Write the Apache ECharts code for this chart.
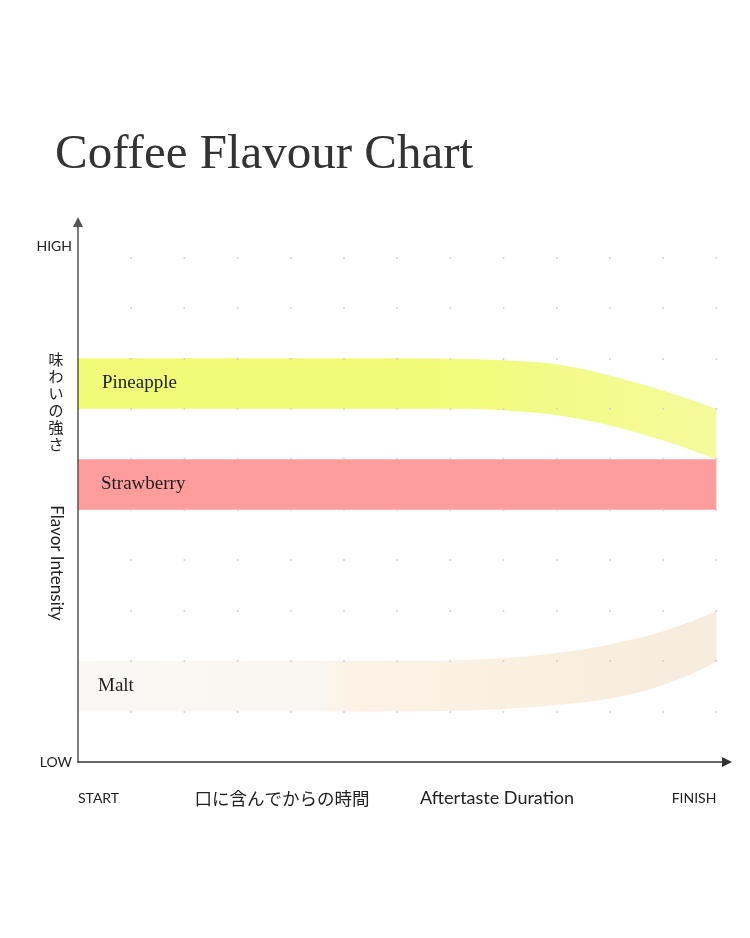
<!DOCTYPE html>
<html><head><meta charset="utf-8">
<script src="https://cdn.jsdelivr.net/npm/echarts@6/dist/echarts.min.js"></script>
<style>html,body{margin:0;padding:0;background:#fff}#c{width:750px;height:938px}</style>
</head><body><div id="c"></div>
<script>
// time positions (START = 0 ... FINISH = 12)
const xPoints        = [0, 1, 2, 3, 4, 5, 6, 7, 8, 9, 10, 11, 12];
// band boundaries (flavour intensity, LOW = 0)
const pineappleLow   = [7, 7, 7, 7, 7, 7, 7, 7.0, 6.97, 6.87, 6.67, 6.37, 6.0];
const pineappleHigh  = [8, 8, 8, 8, 8, 8, 8, 7.99, 7.96, 7.88, 7.66, 7.36, 7.0];
const strawberryLow  = [5, 5, 5, 5, 5, 5, 5, 5, 5, 5, 5, 5, 5];
const strawberryHigh = [6, 6, 6, 6, 6, 6, 6, 6, 6, 6, 6, 6, 6];
const maltLow        = [1, 1, 1, 1, 1, 1, 1, 1.01, 1.05, 1.13, 1.26, 1.52, 1.99];
const maltHigh       = [2, 2, 2, 2, 2, 2, 2, 2.01, 2.06, 2.16, 2.33, 2.59, 2.99];
// axis tick labels
const xTickValues = [0, 12];
const xTickLabels = ['START', 'FINISH'];
const yTickValues = [0, 10.22];
const yTickLabels = ['LOW', 'HIGH'];
const bandNames = ['Pineapple', 'Strawberry', 'Malt'];

const chart = echarts.init(document.getElementById('c'), null, {renderer: 'canvas'});

// monotone cubic (Fritsch-Carlson) bezier segments through pixel points
function monotoneSegments(pts) {
  const n = pts.length, s = [], m = [];
  for (let k = 0; k < n - 1; k++) s.push((pts[k + 1][1] - pts[k][1]) / (pts[k + 1][0] - pts[k][0]));
  // one-sided end tangents, kept monotone
  const endT = (a, b) => { let t = a + (a - b) / 2; if (t * a <= 0) t = 0; if (Math.abs(t) > 3 * Math.abs(a)) t = 3 * a; return t; };
  m[0] = n > 2 ? endT(s[0], s[1]) : s[0];
  m[n - 1] = n > 2 ? endT(s[n - 2], s[n - 3]) : s[n - 2];
  for (let k = 1; k < n - 1; k++) m[k] = (s[k - 1] * s[k] <= 0) ? 0 : (s[k - 1] + s[k]) / 2;
  for (let k = 0; k < n - 1; k++) {
    if (s[k] === 0) { m[k] = 0; m[k + 1] = 0; continue; }
    const a = m[k] / s[k], b = m[k + 1] / s[k], h = a * a + b * b;
    if (h > 9) { const t = 3 / Math.sqrt(h); m[k] = t * a * s[k]; m[k + 1] = t * b * s[k]; }
  }
  const segs = [];
  for (let k = 0; k < n - 1; k++) {
    const p0 = pts[k], p1 = pts[k + 1], d = (p1[0] - p0[0]) / 3;
    segs.push([p0, [p0[0] + d, p0[1] + m[k] * d], [p1[0] - d, p1[1] - m[k + 1] * d], p1]);
  }
  return segs;
}

function band(name, low, high, fill, labelDist) {
  return {
    type: 'custom', name: name, silent: true, z: 2,
    data: xPoints.map((x, i) => [x, low[i], high[i]]),
    encode: {x: 0, y: [1, 2]},
    renderItem: function (params, api) {
      if (params.dataIndex !== 0) return null;
      const up = xPoints.map((x, i) => api.coord([x, high[i]]));
      const lo = xPoints.map((x, i) => api.coord([x, low[i]]));
      const su = monotoneSegments(up), sl = monotoneSegments(lo);
      let d = 'M' + up[0][0] + ' ' + up[0][1];
      su.forEach(g => { d += ' C' + g[1].join(' ') + ' ' + g[2].join(' ') + ' ' + g[3].join(' '); });
      d += ' L' + lo[lo.length - 1][0] + ' ' + lo[lo.length - 1][1];
      for (let k = sl.length - 1; k >= 0; k--) {
        const g = sl[k];
        d += ' C' + g[2].join(' ') + ' ' + g[1].join(' ') + ' ' + g[0].join(' ');
      }
      d += ' Z';
      const mid = api.coord([0, (low[0] + high[0]) / 2]);
      return {
        type: 'group',
        children: [
          {type: 'path', shape: {pathData: d}, style: {fill: fill}},
          {type: 'text', x: mid[0] + labelDist, y: mid[1],
            style: {text: name, fontFamily: '"Liberation Serif", serif', fontSize: 19,
              fill: '#1e1e1e', verticalAlign: 'middle', align: 'left'}}
        ]
      };
    }
  };
}

const grad = (stops) => new echarts.graphic.LinearGradient(0, 0, 1, 0,
  stops.map(s => ({offset: s[0], color: s[1]})));

const option = {
  animation: false,
  backgroundColor: '#fff',
  title: {
    text: 'Coffee Flavour Chart', left: 50, top: 126,
    textStyle: {fontFamily: '"Liberation Serif", serif', fontSize: 49, fontWeight: 'normal', color: '#333'}
  },
  grid: {left: 78, top: 222, width: 649, height: 540, containLabel: false},
  xAxis: {
    type: 'value', min: 0, max: 12.2, interval: 1, z: 3,
    axisLine: {show: true, symbol: ['none', 'triangle'], symbolSize: [10, 10],
      lineStyle: {color: '#333', width: 1.5}},
    axisTick: {show: false},
    splitLine: {show: false},
    axisLabel: {customValues: xTickValues, margin: 29, alignMinLabel: 'left', alignMaxLabel: 'right',
      formatter: v => xTickLabels[xTickValues.indexOf(v)],
      fontFamily: 'Lato, sans-serif', fontSize: 14, color: '#222'}
  },
  yAxis: {
    type: 'value', min: 0, max: 10.7, interval: 1, z: 3,
    axisLine: {show: true, symbol: ['none', 'triangle'], symbolSize: [10, 10],
      lineStyle: {color: '#555', width: 1.5}},
    axisTick: {show: false},
    splitLine: {show: true, showMaxLine: false, showMinLine: false,
      lineStyle: {color: '#c8c8c8', width: 1.6, type: [1.6, 649 / 12.2 - 1.6], dashOffset: 0.8}},
    axisLabel: {customValues: yTickValues, margin: 6,
      formatter: v => yTickLabels[yTickValues.indexOf(v)],
      fontFamily: 'Lato, sans-serif', fontSize: 14, color: '#222'}
  },
  graphic: [
    {type: 'text', x: 56, y: 351, silent: true,
      style: {text: '味\nわ\nい\nの\n強\nさ', fontFamily: '"Noto Sans CJK JP"', fontSize: 15,
        lineHeight: 17, align: 'center', fill: '#222'}},
    {type: 'text', x: 56, y: 563, rotation: -Math.PI / 2, silent: true,
      style: {text: 'Flavor Intensity', fontFamily: 'Lato, sans-serif', fontSize: 17,
        align: 'center', verticalAlign: 'middle', fill: '#222'}},
    {type: 'text', x: 282, y: 798, silent: true,
      style: {text: '口に含んでからの時間', fontFamily: '"Noto Sans CJK JP"', fontSize: 17.5,
        align: 'center', verticalAlign: 'middle', fill: '#222'}},
    {type: 'text', x: 497, y: 798, silent: true,
      style: {text: 'Aftertaste Duration', fontFamily: 'Lato, sans-serif', fontSize: 18,
        align: 'center', verticalAlign: 'middle', fill: '#222'}}
  ],
  series: [
    band(bandNames[0], pineappleLow, pineappleHigh,
      grad([[0, '#f0fc78'], [0.55, '#f0fc78'], [0.8, '#f2fb8c'], [1, '#f4fb9c']]), 24),
    band(bandNames[1], strawberryLow, strawberryHigh, '#ff9d9c', 23),
    band(bandNames[2], maltLow, maltHigh,
      grad([[0, '#faf8f4'], [0.38, '#faf7f1'], [0.42, '#fcf3e6'], [1, '#f6ecdd']]), 20)
  ]
};
chart.setOption(option);
</script>
</body></html>
